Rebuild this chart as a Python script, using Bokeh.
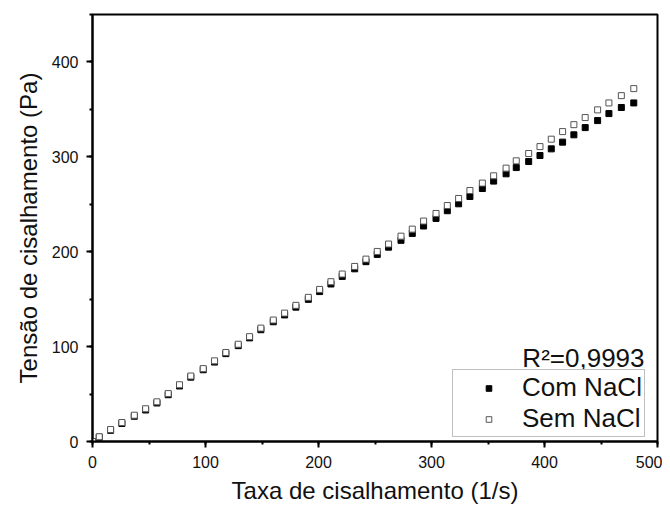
from bokeh.plotting import figure
from bokeh.models import (Range1d, SingleIntervalTicker, Legend, LegendItem, Label,
                          ColumnDataSource)
from bokeh.embed import file_html
from bokeh.resources import INLINE

# ---- data ----
shear_rate = [0, 6, 16, 26, 37, 47, 57, 67, 77, 87, 98, 108, 118, 129, 139, 149,
              160, 170, 180, 191, 201, 211, 221, 232, 242, 252, 262, 273, 283, 293,
              304, 314, 324, 334, 345, 355, 366, 375, 386, 396, 406, 416, 426, 436,
              447, 457, 468, 479]
com_nacl = [0, 4.5, 11.8, 19, 26.6, 33.2, 40.6, 49.3, 58.5, 67.8, 75.6, 83.7, 92.6,
            101, 109.2, 117.8, 126.2, 133.4, 141.6, 149.8, 158, 166, 174, 182, 189.5,
            197.2, 204.8, 212, 219.3, 227.1, 235.1, 243.2, 250.5, 258.2, 266.6, 274.4,
            282.1, 288.7, 295.1, 301.4, 308.4, 315.5, 323.2, 330.8, 338.2, 345.6, 352,
            356.8]
sem_nacl = [0, 5, 12.6, 20, 27.7, 34.5, 41.8, 50.5, 59.8, 69, 76.8, 85, 93.8, 102.5,
            110.5, 119.5, 128, 135.3, 143.5, 151.9, 160.3, 168.4, 176.5, 184.5, 192.2,
            200.3, 208.1, 216.4, 223.8, 232.3, 240.3, 248.7, 256.1, 264.5, 272.3, 280,
            288.1, 295.8, 303.5, 310.8, 318.6, 326.6, 333.9, 341.4, 349.5, 356.8, 364.5,
            371.9]
series_labels = ["Com NaCl", "Sem NaCl"]
r2_text = "R²=0,9993"
x_title = "Taxa de cisalhamento (1/s)"
y_title = "Tensão de cisalhamento (Pa)"

FONT = "Liberation Sans"

p = figure(width=662, height=511, output_backend="svg", toolbar_location=None,
           x_range=Range1d(0, 500), y_range=Range1d(0, 450),
           min_border_left=92, min_border_right=5, min_border_top=14,
           min_border_bottom=70)
p.grid.visible = False
p.outline_line_color = "black"
p.outline_line_width = 2
p.background_fill_color = "white"
p.border_fill_color = "white"

for ax in (p.xaxis[0], p.yaxis[0]):
    ax.ticker = SingleIntervalTicker(interval=100, num_minor_ticks=2)
    ax.axis_line_width = 2
    ax.axis_line_color = "black"
    ax.major_tick_line_width = 2
    ax.major_tick_out = 6
    ax.major_tick_in = 0
    ax.minor_tick_line_width = 2
    ax.minor_tick_out = 3
    ax.minor_tick_in = 0
    ax.major_label_text_font = FONT
    ax.major_label_text_font_size = "16px"
    ax.major_label_text_color = "#111111"
    ax.axis_label_text_font = FONT
    ax.axis_label_text_font_size = "24px"
    ax.axis_label_text_font_style = "normal"
    ax.axis_label_text_color = "#111111"

p.xaxis[0].axis_label = x_title
p.yaxis[0].axis_label = y_title
p.xaxis[0].major_label_standoff = 8
p.yaxis[0].major_label_standoff = 8
p.xaxis[0].axis_label_standoff = 6
p.yaxis[0].axis_label_standoff = 7

src = ColumnDataSource(dict(x=shear_rate, com=com_nacl, sem=sem_nacl))
r_com = p.scatter("x", "com", source=src, marker="square", size=6,
                  fill_color="black", line_color="black", line_width=1)
r_sem = p.scatter("x", "sem", source=src, marker="square", size=6,
                  fill_color="white", line_color="#555555", line_width=1)

legend = Legend(items=[LegendItem(label=series_labels[0], renderers=[r_com]),
                       LegendItem(label=series_labels[1], renderers=[r_sem])],
                location=(360, 4))
legend.label_text_font = FONT
legend.label_text_font_size = "26px"
legend.label_text_color = "#111111"
legend.border_line_color = "#808080"
legend.border_line_width = 1
legend.padding = 2
legend.spacing = 0
legend.margin = 0
legend.glyph_width = 67
legend.glyph_height = 14
legend.label_height = 28
legend.label_standoff = 0
legend.background_fill_alpha = 1.0
p.add_layout(legend)

r2 = Label(x=488.5, y=88.4, text=r2_text, text_align="right", text_baseline="middle",
           text_font=FONT, text_font_size="26px", text_color="#111111")
p.add_layout(r2)

open("out.html", "w").write(file_html(p, INLINE))
